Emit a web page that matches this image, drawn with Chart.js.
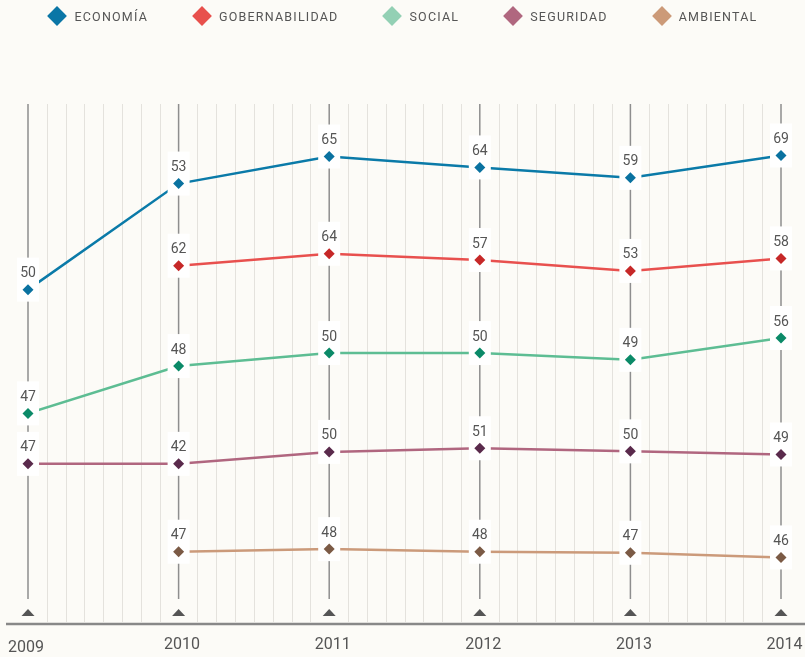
<!DOCTYPE html>
<html><head><meta charset="utf-8">
<script src="https://cdn.jsdelivr.net/npm/chart.js@4/dist/chart.umd.min.js"></script>
<style>
html,body{margin:0;padding:0;background:#fcfbf7;}
#wrap{position:relative;width:805px;height:657px;overflow:hidden;}
canvas{position:absolute;top:0;left:0;}
#legend{position:absolute;top:0;left:0;width:805px;height:32px;display:flex;justify-content:center;align-items:center;gap:44px;font-family:Roboto,sans-serif;font-size:12.5px;letter-spacing:1.2px;color:#555;z-index:2;}
.item{display:flex;align-items:center;white-space:nowrap;}
.sw{width:14px;height:14px;transform:rotate(45deg);margin-left:3px;margin-right:10px;}
</style></head>
<body>
<div id="wrap">
<canvas id="c" width="805" height="657"></canvas>
<div id="legend"></div>
</div>
<script>
// ---- data ----
const years = [2009, 2010, 2011, 2012, 2013, 2014];
const seriesNames = ['ECONOMÍA', 'GOBERNABILIDAD', 'SOCIAL', 'SEGURIDAD', 'AMBIENTAL'];
// vertical position of each point (chart units, 0 = baseline, 100 = top)
const economia       = [64.3, 84.7, 89.9, 87.8, 85.8, 90.1];
const gobernabilidad = [null, 68.9, 71.2, 70.0, 67.9, 70.3];
const social         = [40.5, 49.6, 52.1, 52.1, 50.8, 55.0];
const seguridad      = [30.8, 30.8, 33.1, 33.8, 33.2, 32.6];
const ambiental      = [null, 13.9, 14.4, 13.9, 13.7, 12.8];
// printed values
const economiaLabels       = [50, 53, 65, 64, 59, 69];
const gobernabilidadLabels = [null, 62, 64, 57, 53, 58];
const socialLabels         = [47, 48, 50, 50, 49, 56];
const seguridadLabels      = [47, 42, 50, 51, 50, 49];
const ambientalLabels      = [null, 47, 48, 48, 47, 46];

// ---- styles ----
const BG = '#fcfbf7';
const lineColors   = ['#0a7aa8', '#e8504e', '#5dbd93', '#b0667f', '#cb9a7a'];
const pointColors  = ['#0a72a0', '#c62828', '#0b8a68', '#5a2a4c', '#7b5a45'];
const legendColors = ['#0a76a6', '#e8504c', '#93d0b4', '#b0677f', '#cc9a78'];

const values = [economia, gobernabilidad, social, seguridad, ambiental];
const labels = [economiaLabels, gobernabilidadLabels, socialLabels, seguridadLabels, ambientalLabels];

// legend
const lg = document.getElementById('legend');
seriesNames.forEach((n, i) => {
  const it = document.createElement('div'); it.className = 'item';
  const sw = document.createElement('div'); sw.className = 'sw'; sw.style.background = legendColors[i];
  const tx = document.createElement('span'); tx.textContent = n;
  it.appendChild(sw); it.appendChild(tx); lg.appendChild(it);
});

const deco = {
  id: 'deco',
  beforeDraw(chart) {
    const ctx = chart.ctx;
    ctx.save(); ctx.fillStyle = BG; ctx.fillRect(0, 0, chart.width, chart.height); ctx.restore();
  },
  beforeDatasetsDraw(chart) {
    const ctx = chart.ctx, a = chart.chartArea, x = chart.scales.x;
    ctx.save();
    // minor lines
    ctx.strokeStyle = '#e4e2dd'; ctx.lineWidth = 1;
    for (let i = 0; i < years.length - 1; i++) {
      for (let k = 1; k < 8; k++) {
        const px = Math.round(x.getPixelForValue(years[i] + (years[i+1]-years[i]) * k / 8)) + 0.5;
        ctx.beginPath(); ctx.moveTo(px, a.top); ctx.lineTo(px, a.bottom - 2); ctx.stroke();
      }
    }
    // major lines + arrows
    years.forEach(y => {
      const px = x.getPixelForValue(y);
      ctx.strokeStyle = '#8e8e8e'; ctx.lineWidth = 1.5;
      ctx.beginPath(); ctx.moveTo(px, a.top); ctx.lineTo(px, a.bottom - 25); ctx.stroke();
      ctx.fillStyle = '#555';
      ctx.beginPath(); ctx.moveTo(px, a.bottom - 15); ctx.lineTo(px + 6.5, a.bottom - 8); ctx.lineTo(px - 6.5, a.bottom - 8); ctx.closePath(); ctx.fill();
    });
    // baseline
    ctx.strokeStyle = '#888'; ctx.lineWidth = 2.5;
    ctx.beginPath(); ctx.moveTo(6, a.bottom); ctx.lineTo(chart.width, a.bottom); ctx.stroke();
    // year labels
    ctx.fillStyle = '#555'; ctx.font = '16px Roboto, sans-serif'; ctx.textBaseline = 'alphabetic';
    years.forEach((y, i) => {
      const px = x.getPixelForValue(y);
      ctx.textAlign = 'center';
      if (i === 0) ctx.fillText(String(y), px - 2, a.bottom + 27.5);
      else ctx.fillText(String(y), px + 3.5, a.bottom + 25);
    });
    ctx.restore();
  },
  afterDatasetsDraw(chart) {
    const ctx = chart.ctx;
    ctx.save();
    // halos
    ctx.fillStyle = '#ffffff';
    chart.data.datasets.forEach((ds, di) => {
      chart.getDatasetMeta(di).data.forEach((pt, i) => {
        if (values[di][i] == null) return;
        ctx.fillRect(pt.x - 11, pt.y - 32, 22, 44);
      });
    });
    // points and labels
    chart.data.datasets.forEach((ds, di) => {
      chart.getDatasetMeta(di).data.forEach((pt, i) => {
        if (values[di][i] == null) return;
        pt.draw(ctx, chart.chartArea);
        ctx.fillStyle = '#555'; ctx.font = '14px Roboto, sans-serif';
        ctx.textAlign = 'center'; ctx.textBaseline = 'alphabetic';
        ctx.fillText(String(labels[di][i]), pt.x, pt.y - 12.5);
      });
    });
    ctx.restore();
  }
};

new Chart(document.getElementById('c'), {
  type: 'line',
  data: {
    datasets: seriesNames.map((n, di) => ({
      label: n,
      data: years.map((y, i) => ({ x: y, y: values[di][i] })),
      borderColor: lineColors[di],
      backgroundColor: pointColors[di],
      pointBackgroundColor: pointColors[di],
      pointBorderWidth: 0,
      pointStyle: 'rectRot',
      pointRadius: 5.5,
      borderWidth: 2.5,
      tension: 0,
      fill: false,
      spanGaps: false
    }))
  },
  options: {
    responsive: false,
    animation: false,
    layout: { padding: { left: 28, right: 24, top: 104, bottom: 33 } },
    scales: {
      x: { type: 'linear', min: 2009, max: 2014, display: false },
      y: { type: 'linear', min: 0, max: 100, display: false }
    },
    plugins: { legend: { display: false }, tooltip: { enabled: false } }
  },
  plugins: [deco]
});
</script>
</body></html>
